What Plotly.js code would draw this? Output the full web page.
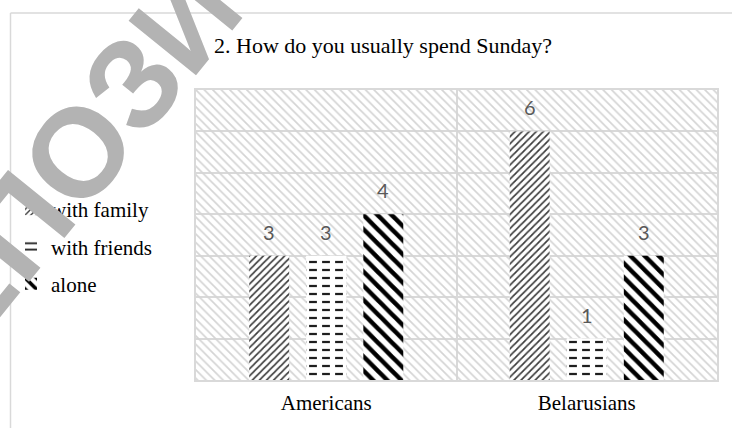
<!DOCTYPE html>
<html>
<head>
<meta charset="utf-8">
<script src="https://cdn.plot.ly/plotly-3.0.1.min.js"></script>
<style>
  html, body { margin: 0; padding: 0; background: #fff; }
  #chart { width: 732px; height: 428px; }
</style>
</head>
<body>
<div id="chart"></div>
<script>
// Survey: how people usually spend Sunday
const groups = ['Americans', 'Belarusians'];
const seriesNames = ['with family', 'with friends', 'alone'];
const withFamily = [3, 6];
const withFriends = [3, 1];
const alone = [4, 3];
const yMax = 7;

const chartTitle = '2. How do you usually spend Sunday?';
const watermarkText = 'РЕПОЗИТОРИЙ';

// page geometry (pixels)
const W = 732, H = 428;
const M = { l: 196, r: 15, t: 90, b: 48, autoexpand: false };
const plotW = W - M.l - M.r, plotH = H - M.t - M.b;
const px = x => (x - M.l) / plotW;        // pixel x -> paper x
const py = y => (H - M.b - y) / plotH;    // pixel y -> paper y

const serif = 'Liberation Serif, Times New Roman, serif';
const gridGrey = '#d9d9d9';
const bargap = 0.343;

// hatched plot background, one full-width bar per category
const backdrop = {
  type: 'bar', x: groups, y: groups.map(() => yMax), width: groups.map(() => 1),
  xaxis: 'x', yaxis: 'y',
  marker: {
    color: 'rgba(0,0,0,0)', line: { width: 0 },
    pattern: { shape: '\\', fgcolor: '#d4d4d4', bgcolor: 'rgba(0,0,0,0)', size: 6, solidity: 0.28 }
  },
  showlegend: false, hoverinfo: 'skip'
};

function seriesTrace(name, values, group, pattern, extra) {
  return Object.assign({
    type: 'bar', name: name, x: groups, y: values,
    xaxis: 'x2', yaxis: 'y2', offsetgroup: group, legendgroup: group,
    marker: { color: '#ffffff', line: { width: 0 }, pattern: pattern },
    hoverinfo: 'x+y+name'
  }, extra || {});
}

const family = seriesTrace(seriesNames[0], withFamily, 'a',
  { shape: '/', fgcolor: '#3c3c3c', bgcolor: '#ffffff', size: 5, solidity: 0.34 });
const friends = seriesTrace(seriesNames[1], withFriends, 'b',
  { shape: '-', fgcolor: '#1e1e1e', bgcolor: '#ffffff', size: 8, solidity: 0.28 });
// white vertical strokes laid over the friends bars break their lines into dashes
const friendsDash = seriesTrace(seriesNames[1], withFriends, 'b',
  { shape: '|', fgcolor: '#ffffff', bgcolor: 'rgba(0,0,0,0)', size: 13, solidity: 0.4 },
  { showlegend: false, hoverinfo: 'skip' });
friendsDash.marker.color = 'rgba(0,0,0,0)';
const lonely = seriesTrace(seriesNames[2], alone, 'c',
  { shape: '\\', fgcolor: '#000000', bgcolor: '#ffffff', size: 10, solidity: 0.45 });

// value labels above each bar
const slot = (1 - bargap) / 3;
const labelAnnotations = [];
[withFamily, withFriends, alone].forEach((vals, si) => {
  vals.forEach((v, gi) => {
    labelAnnotations.push({
      xref: 'x2', yref: 'y2', x: gi + (si - 1) * slot, y: v,
      text: String(v), showarrow: false, yanchor: 'bottom', yshift: 10,
      font: { family: 'Lato, Open Sans, sans-serif', size: 20, color: '#595959' }
    });
  });
});

// diagonal watermark, laid out glyph by glyph along a rotated baseline
const wmSize = 126, wmAngle = 51;
const wmAdvance = { 'Р': 0.667, 'Е': 0.667, 'П': 0.722, 'О': 0.778, 'З': 0.611,
                    'И': 0.722, 'Т': 0.611, 'Й': 0.722 };
const wmAnchor = { index: 3, x: 78, y: 152 };   // first 'О' sits here
const wmGlyphs = watermarkText.split('');
let run = 0;
const wmCentres = wmGlyphs.map(ch => { const w = wmAdvance[ch] || 0.7; const c = run + w / 2; run += w; return c; });
const rad = wmAngle * Math.PI / 180;
const watermark = wmGlyphs.map((ch, i) => {
  const d = (wmCentres[i] - wmCentres[wmAnchor.index]) * wmSize;
  return {
    xref: 'paper', yref: 'paper',
    x: px(wmAnchor.x + d * Math.cos(rad)), y: py(wmAnchor.y - d * Math.sin(rad)),
    text: ch, showarrow: false, textangle: -wmAngle,
    xanchor: 'center', yanchor: 'middle',
    font: { family: 'Liberation Sans, Arial, sans-serif', size: wmSize, color: '#b3b3b3', weight: 'bold' }
  };
});

const frameLine = { color: gridGrey, width: 1.5 };
const shapes = [
  { type: 'line', xref: 'paper', yref: 'paper', x0: px(10.5), x1: px(10.5), y0: py(13), y1: py(H), line: frameLine },
  { type: 'line', xref: 'paper', yref: 'paper', x0: px(10.5), x1: px(W), y0: py(13), y1: py(13), line: frameLine }
];

const layout = {
  width: W, height: H,
  margin: M,
  paper_bgcolor: '#ffffff', plot_bgcolor: '#ffffff',
  barmode: 'group', bargap: bargap, bargroupgap: 0.3,
  title: {
    text: chartTitle, xref: 'container', yref: 'container',
    x: 214 / W, xanchor: 'left', y: 1 - 45 / H, yanchor: 'middle',
    font: { family: serif, size: 22, color: '#000000' }
  },
  xaxis: {
    type: 'category', categoryarray: groups, range: [-0.5, 1.5],
    tickson: 'boundaries', showgrid: true, gridcolor: gridGrey, gridwidth: 2,
    ticks: '', ticklabelstandoff: 3,
    showline: true, mirror: true, linecolor: gridGrey, linewidth: 2,
    tickfont: { family: serif, size: 21, color: '#000000' },
    fixedrange: true
  },
  yaxis: {
    range: [0, yMax], dtick: 1, showticklabels: false, ticks: '',
    showgrid: true, gridcolor: gridGrey, gridwidth: 2, zeroline: false,
    showline: true, mirror: true, linecolor: gridGrey, linewidth: 2,
    fixedrange: true
  },
  xaxis2: {
    type: 'category', categoryarray: groups, range: [-0.5, 1.5],
    overlaying: 'x', visible: false, fixedrange: true
  },
  yaxis2: {
    range: [0, yMax], overlaying: 'y', visible: false, fixedrange: true
  },
  legend: {
    x: px(11), xanchor: 'left', y: py(189), yanchor: 'top',
    traceorder: 'grouped', tracegroupgap: 7,
    font: { family: serif, size: 21, color: '#000000' },
    bgcolor: 'rgba(0,0,0,0)'
  },
  showlegend: true,
  annotations: watermark.concat(labelAnnotations),
  shapes: shapes
};

Plotly.newPlot('chart', [backdrop, family, friends, friendsDash, lonely], layout,
  { displayModeBar: false });
</script>
</body>
</html>
